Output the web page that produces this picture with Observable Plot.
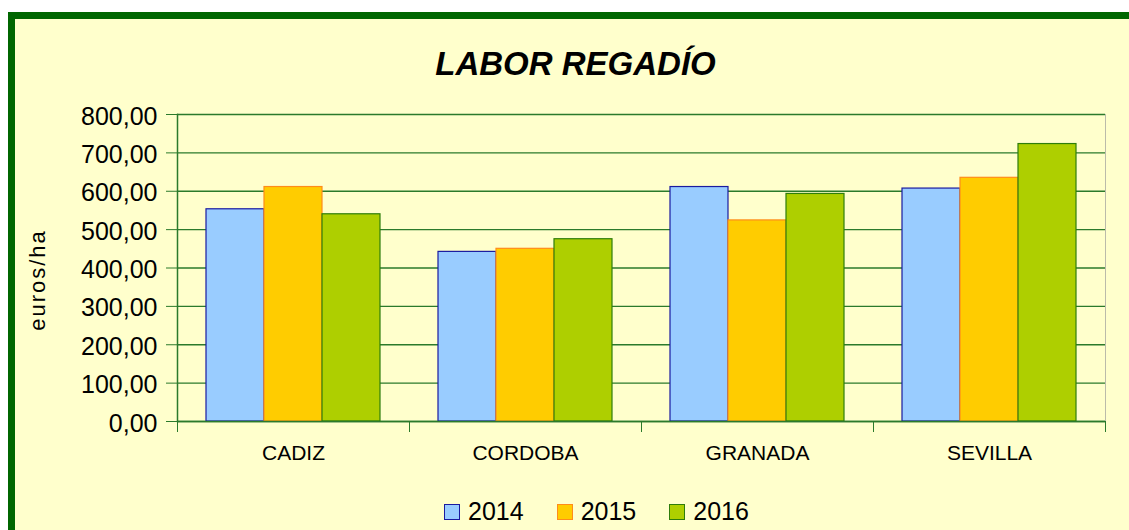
<!DOCTYPE html>
<html>
<head>
<meta charset="utf-8">
<script src="https://cdn.jsdelivr.net/npm/d3@7"></script>
<script src="https://cdn.jsdelivr.net/npm/@observablehq/plot@0.6"></script>
<style>
  html, body { margin: 0; padding: 0; background: #ffffff; width: 1129px; height: 530px; overflow: hidden; }
  body { font-family: "Liberation Sans", Arial, sans-serif; position: relative; }
  #panel { position: absolute; left: 8px; top: 12px; width: 1200px; height: 600px;
           background: #FFFFCC; border-left: 7px solid #006600; border-top: 7px solid #006600; box-sizing: border-box; }
  #title { position: absolute; left: 0; width: 1151px; top: 46px; text-align: center;
           font: italic bold 33px "Liberation Sans", Arial, sans-serif; color: #000; line-height: 36px; }
  #ylabel { position: absolute; left: 38px; top: 280px; transform: translate(-50%, -50%) rotate(-90deg);
            font-size: 22px; letter-spacing: 2px; color: #000; white-space: nowrap; }
  #chart { position: absolute; left: 0; top: 0; }
  #legend { position: absolute; top: 497px; left: 444px; display: flex; align-items: center; font-size: 25px; color: #000; }
  .item { display: flex; align-items: center; margin-right: 33px; }
  .sw { width: 14px; height: 14px; border: 1px solid; margin-right: 8px; }
</style>
</head>
<body>
<div id="panel"></div>
<div id="title">LABOR REGADÍO</div>
<div id="ylabel">euros/ha</div>
<div id="chart"></div>
<div id="legend"></div>
<script>
const regions = ["CADIZ", "CORDOBA", "GRANADA", "SEVILLA"];
const years = ["2014", "2015", "2016"];
const v2014 = [553, 442, 611, 607];
const v2015 = [611, 450, 524, 635];
const v2016 = [540, 475, 593, 723];
const yTicks = [0, 100, 200, 300, 400, 500, 600, 700, 800];
const fills = ["#99CCFF", "#FFCC00", "#AECF00"];
const strokes = ["#1A1AA0", "#FF8C1A", "#2E7D0A"];

const series = [v2014, v2015, v2016];
const table = [];
regions.forEach((r, i) => years.forEach((y, k) => table.push({region: r, year: y, value: series[k][i], k})));

const esFmt = d3.formatLocale({decimal: ",", thousands: ".", grouping: [3], currency: ["", " €"]}).format(".2f");
const green = "#2B7A2B";

const chart = Plot.plot({
  width: 1129,
  height: 530,
  marginLeft: 176,
  marginRight: 24,
  marginTop: 114,
  marginBottom: 109,
  style: {background: "transparent", fontFamily: "'Liberation Sans', Arial, sans-serif", color: "#000"},
  fx: {domain: regions, paddingInner: 0, paddingOuter: 0, label: null},
  x: {domain: years, paddingInner: 0, paddingOuter: 0.5, axis: null},
  y: {domain: [0, 800], axis: null},
  marks: [
    Plot.gridY(yTicks, {stroke: green, strokeOpacity: 1, strokeWidth: 1.3}),
    Plot.frame({anchor: "right", fx: [regions[regions.length - 1]], stroke: "#BBBBAA", strokeWidth: 1}),
    Plot.barY(table, {
      fx: "region", x: "year", y: "value",
      fill: d => fills[d.k], stroke: d => strokes[d.k], strokeWidth: 1.2
    }),
    Plot.ruleY([0], {stroke: green, strokeWidth: 1.5}),
    Plot.frame({anchor: "left", fx: [regions[0]], stroke: green, strokeWidth: 1.5}),
    Plot.axisY(yTicks, {anchor: "left", tickSize: 11, stroke: green, fill: "none", label: null}),
    Plot.axisY(yTicks, {anchor: "left", tickSize: 0, tickPadding: 20, tickFormat: esFmt,
      fill: "#000", fontSize: 25, dy: 2, label: null}),
    Plot.axisFx({anchor: "bottom", tickSize: 11, dx: -116, stroke: green, fill: "none", label: null}),
    Plot.axisFx({anchor: "bottom", tickSize: 11, dx: 116, stroke: green, fill: "none", label: null}),
    Plot.axisFx({anchor: "bottom", tickSize: 0, tickPadding: 24, fill: "#000", fontSize: 21, label: null})
  ]
});
document.getElementById("chart").appendChild(chart);

const legend = document.getElementById("legend");
years.forEach((y, k) => {
  const it = document.createElement("div");
  it.className = "item";
  const sw = document.createElement("div");
  sw.className = "sw";
  sw.style.background = fills[k];
  sw.style.borderColor = strokes[k];
  const t = document.createElement("span");
  t.textContent = y;
  it.appendChild(sw); it.appendChild(t);
  legend.appendChild(it);
});
</script>
</body>
</html>
